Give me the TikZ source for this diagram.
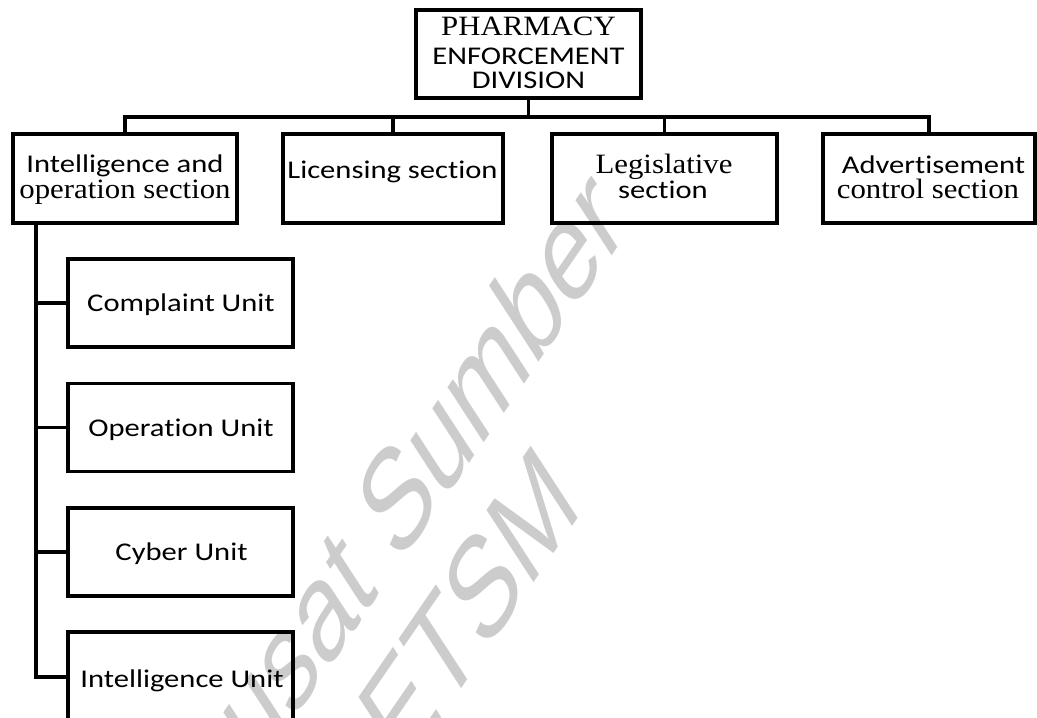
\documentclass[tikz,border=0pt]{standalone}
\usepackage{fontspec}
\newfontfamily\sansfnt[FakeStretch=1.2, Ligatures=NoCommon]{Carlito}
\newfontfamily\seriffnt[FakeStretch=1.1]{Liberation Serif}
\newfontfamily\wmfnt{Liberation Sans}
\begin{document}
\begin{tikzpicture}[x=1pt, y=-1pt,
  box/.style={draw=black, line width=3.4pt, inner sep=0pt, minimum height=88pt},
  link/.style={draw=black, line width=3.4pt},
  sanstxt/.style={font=\sansfnt\fontsize{25.5}{30}\selectfont, inner sep=0pt, anchor=base},
  seriftxt/.style={font=\seriffnt\fontsize{28}{32}\selectfont, inner sep=0pt, anchor=base},
  wmark/.style={font=\wmfnt\fontsize{10}{12}\selectfont, text=black!20, inner sep=0pt,
                anchor=base west, transform shape}]
\useasboundingbox (0,0) rectangle (1037,718);
\clip (0,0) rectangle (1037,718);
\fill[white] (0,0) rectangle (1037,718);

% library watermark, slanted across the page
\begin{scope}[shift={(210.1,840.8)}, cm={6.60,9.61,-6.82,10.49,(0,0)}]
  \node[wmark] (wm1) at (0,0) {Pusat Sumber};
\end{scope}
\begin{scope}[shift={(398.8,779.6)}, cm={6.60,9.61,-6.82,10.49,(0,0)}]
  \node[wmark] (wm2) at (0,0) {ETSM};
\end{scope}

% division head
\node[box, minimum width=225pt] (ped) at (528.5,54) {};
\node[seriftxt] (ped1) at (528.5,35) {PHARMACY};
\node[sanstxt]  (ped2) at (528.5,64.5) {ENFORCEMENT};
\node[sanstxt]  (ped3) at (528.5,88) {DIVISION};

% sections
\node[box, minimum width=224pt, minimum height=89pt] (ios) at (125,178.5) {};
\node[sanstxt]  (ios1) at (125,172.7) {Intelligence and};
\node[seriftxt] (ios2) at (125,198) {operation section};

\node[box, minimum width=220pt, minimum height=89pt] (lic) at (393,178.5) {};
\node[sanstxt]  (lic1) at (392.5,178) {Licensing section};

\node[box, minimum width=225pt, minimum height=89pt] (leg) at (664.5,178.5) {};
\node[seriftxt] (leg1) at (664,173) {Legislative};
\node[sanstxt]  (leg2) at (663,198) {section};

\node[box, minimum width=212pt, minimum height=89pt] (adv) at (929,178.5) {};
\node[sanstxt]  (adv1) at (933.5,173.3) {Advertisement};
\node[seriftxt] (adv2) at (928,198.3) {control section};

% units under the intelligence and operation section
\node[box, minimum width=225pt] (cu)  at (180.5,303) {};
\node[sanstxt] (cu1)  at (181,311.7) {Complaint Unit};
\node[box, minimum width=225pt] (ou)  at (180.5,427.5) {};
\node[sanstxt] (ou1)  at (181,436.7) {Operation Unit};
\node[box, minimum width=225pt] (cyu) at (180.5,552) {};
\node[sanstxt] (cyu1) at (181.5,560) {Cyber Unit};
\node[box, minimum width=225pt, minimum height=90pt] (iu) at (180.5,677) {};
\node[sanstxt] (iu1)  at (182,687.7) {Intelligence Unit};

% connectors
\coordinate (bus) at (0,117);
\coordinate (spine) at (36,0);
\draw[link] (ped.south) -- (ped.south |- bus);
\draw[link] (ios.north) |- (adv.north |- bus) -- (adv.north);
\draw[link] (lic.north) -- (lic.north |- bus);
\draw[link] (leg.north) -- (leg.north |- bus);
\draw[link] (ios.south -| spine) |- (iu.west);
\draw[link] (cu.west)  -- (cu.west -| spine);
\draw[link] (ou.west)  -- (ou.west -| spine);
\draw[link] (cyu.west) -- (cyu.west -| spine);
\end{tikzpicture}
\end{document}
